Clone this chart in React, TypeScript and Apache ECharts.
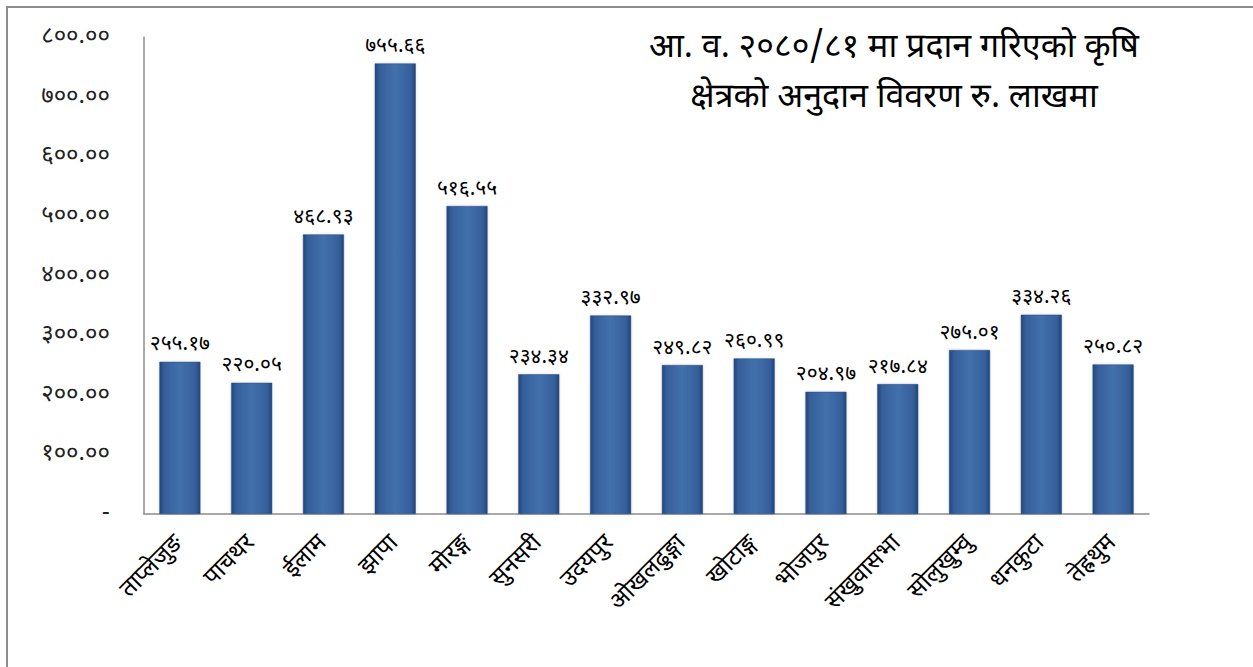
import React, { useEffect, useRef } from "react";
import * as echarts from "echarts";

const categories = [
  "ताप्लेजुङ",
  "पाचथर",
  "ईलाम",
  "झापा",
  "मोरङ्ग",
  "सुनसरी",
  "उदयपुर",
  "ओखलढुङ्गा",
  "खोटाङ्ग",
  "भोजपुर",
  "संखुवासभा",
  "सोलुखुम्वु",
  "धनकुटा",
  "तेह्रथुम",
];

const values = [
  255.17, 220.05, 468.93, 755.66, 516.55, 234.34, 332.97, 249.82, 260.99, 204.97,
  217.84, 275.01, 334.26, 250.82,
];

const titleLines = ["आ. व. २०८०/८१ मा प्रदान गरिएको कृषि", "क्षेत्रको अनुदान विवरण रु. लाखमा"];

const devDigits = ["०", "१", "२", "३", "४", "५", "६", "७", "८", "९"];
const toDev = (s: string) => s.replace(/[0-9]/g, (d) => devDigits[Number(d)]);

const FONT = '"Noto Sans Devanagari", "Lohit Devanagari", Mangal, "Noto Sans", sans-serif';

export default function App() {
  const ref = useRef<HTMLDivElement>(null);
  useEffect(() => {
    document.body.style.margin = "0";
    const chart = echarts.init(ref.current!, null, { renderer: "svg" });
    const barColor = new echarts.graphic.LinearGradient(0, 0, 1, 0, [
      { offset: 0, color: "#24467a" },
      { offset: 0.12, color: "#35609b" },
      { offset: 0.5, color: "#4270ab" },
      { offset: 0.88, color: "#35609b" },
      { offset: 1, color: "#23447a" },
    ]);
    chart.setOption({
      animation: false,
      title: {
        text: titleLines.join("\n"),
        left: 889,
        top: 19,
        textAlign: "center",
        textStyle: {
          fontFamily: FONT,
          fontSize: 34,
          fontWeight: "normal",
          color: "#000",
          lineHeight: 50,
        },
      },
      graphic: [
        {
          type: "polyline",
          shape: { points: [[7, 667], [7, 7], [1253, 7]] },
          style: { stroke: "#8c8c8c", lineWidth: 2, fill: "none" },
          silent: true,
        },
      ],
      grid: { left: 144, top: 37, right: 104, bottom: 153, containLabel: false },
      xAxis: {
        type: "category",
        data: categories,
        axisLine: { show: true, lineStyle: { color: "#8c8c8c", width: 1.5 } },
        axisTick: { show: false },
        axisLabel: {
          interval: 0,
          rotate: 45,
          margin: 26,
          fontFamily: FONT,
          fontSize: 24,
          color: "#000",
        },
      },
      yAxis: {
        type: "value",
        min: 0,
        max: 800,
        interval: 100,
        splitLine: { show: false },
        axisLine: { show: true, lineStyle: { color: "#8c8c8c", width: 1.5 } },
        axisTick: { show: false },
        axisLabel: {
          margin: 34,
          fontFamily: FONT,
          fontSize: 24,
          color: "#222",
          formatter: (v: number) => (v === 0 ? "-" : toDev(v.toFixed(2))),
        },
      },
      series: [
        {
          type: "bar",
          data: values,
          barWidth: 41,
          itemStyle: {
            color: barColor,
            borderColor: "#2a4c82",
            borderWidth: 0.5,
            shadowColor: "rgba(0,0,0,0.15)",
            shadowBlur: 3,
          },
          label: {
            show: true,
            position: "top",
            distance: 6,
            fontFamily: FONT,
            fontSize: 21,
            color: "#000",
            formatter: (p: any) => toDev(Number(p.value).toFixed(2)),
          },
        },
      ],
    });
    return () => chart.dispose();
  }, []);
  return <div ref={ref} style={{ width: 1253, height: 667 }} />;
}
